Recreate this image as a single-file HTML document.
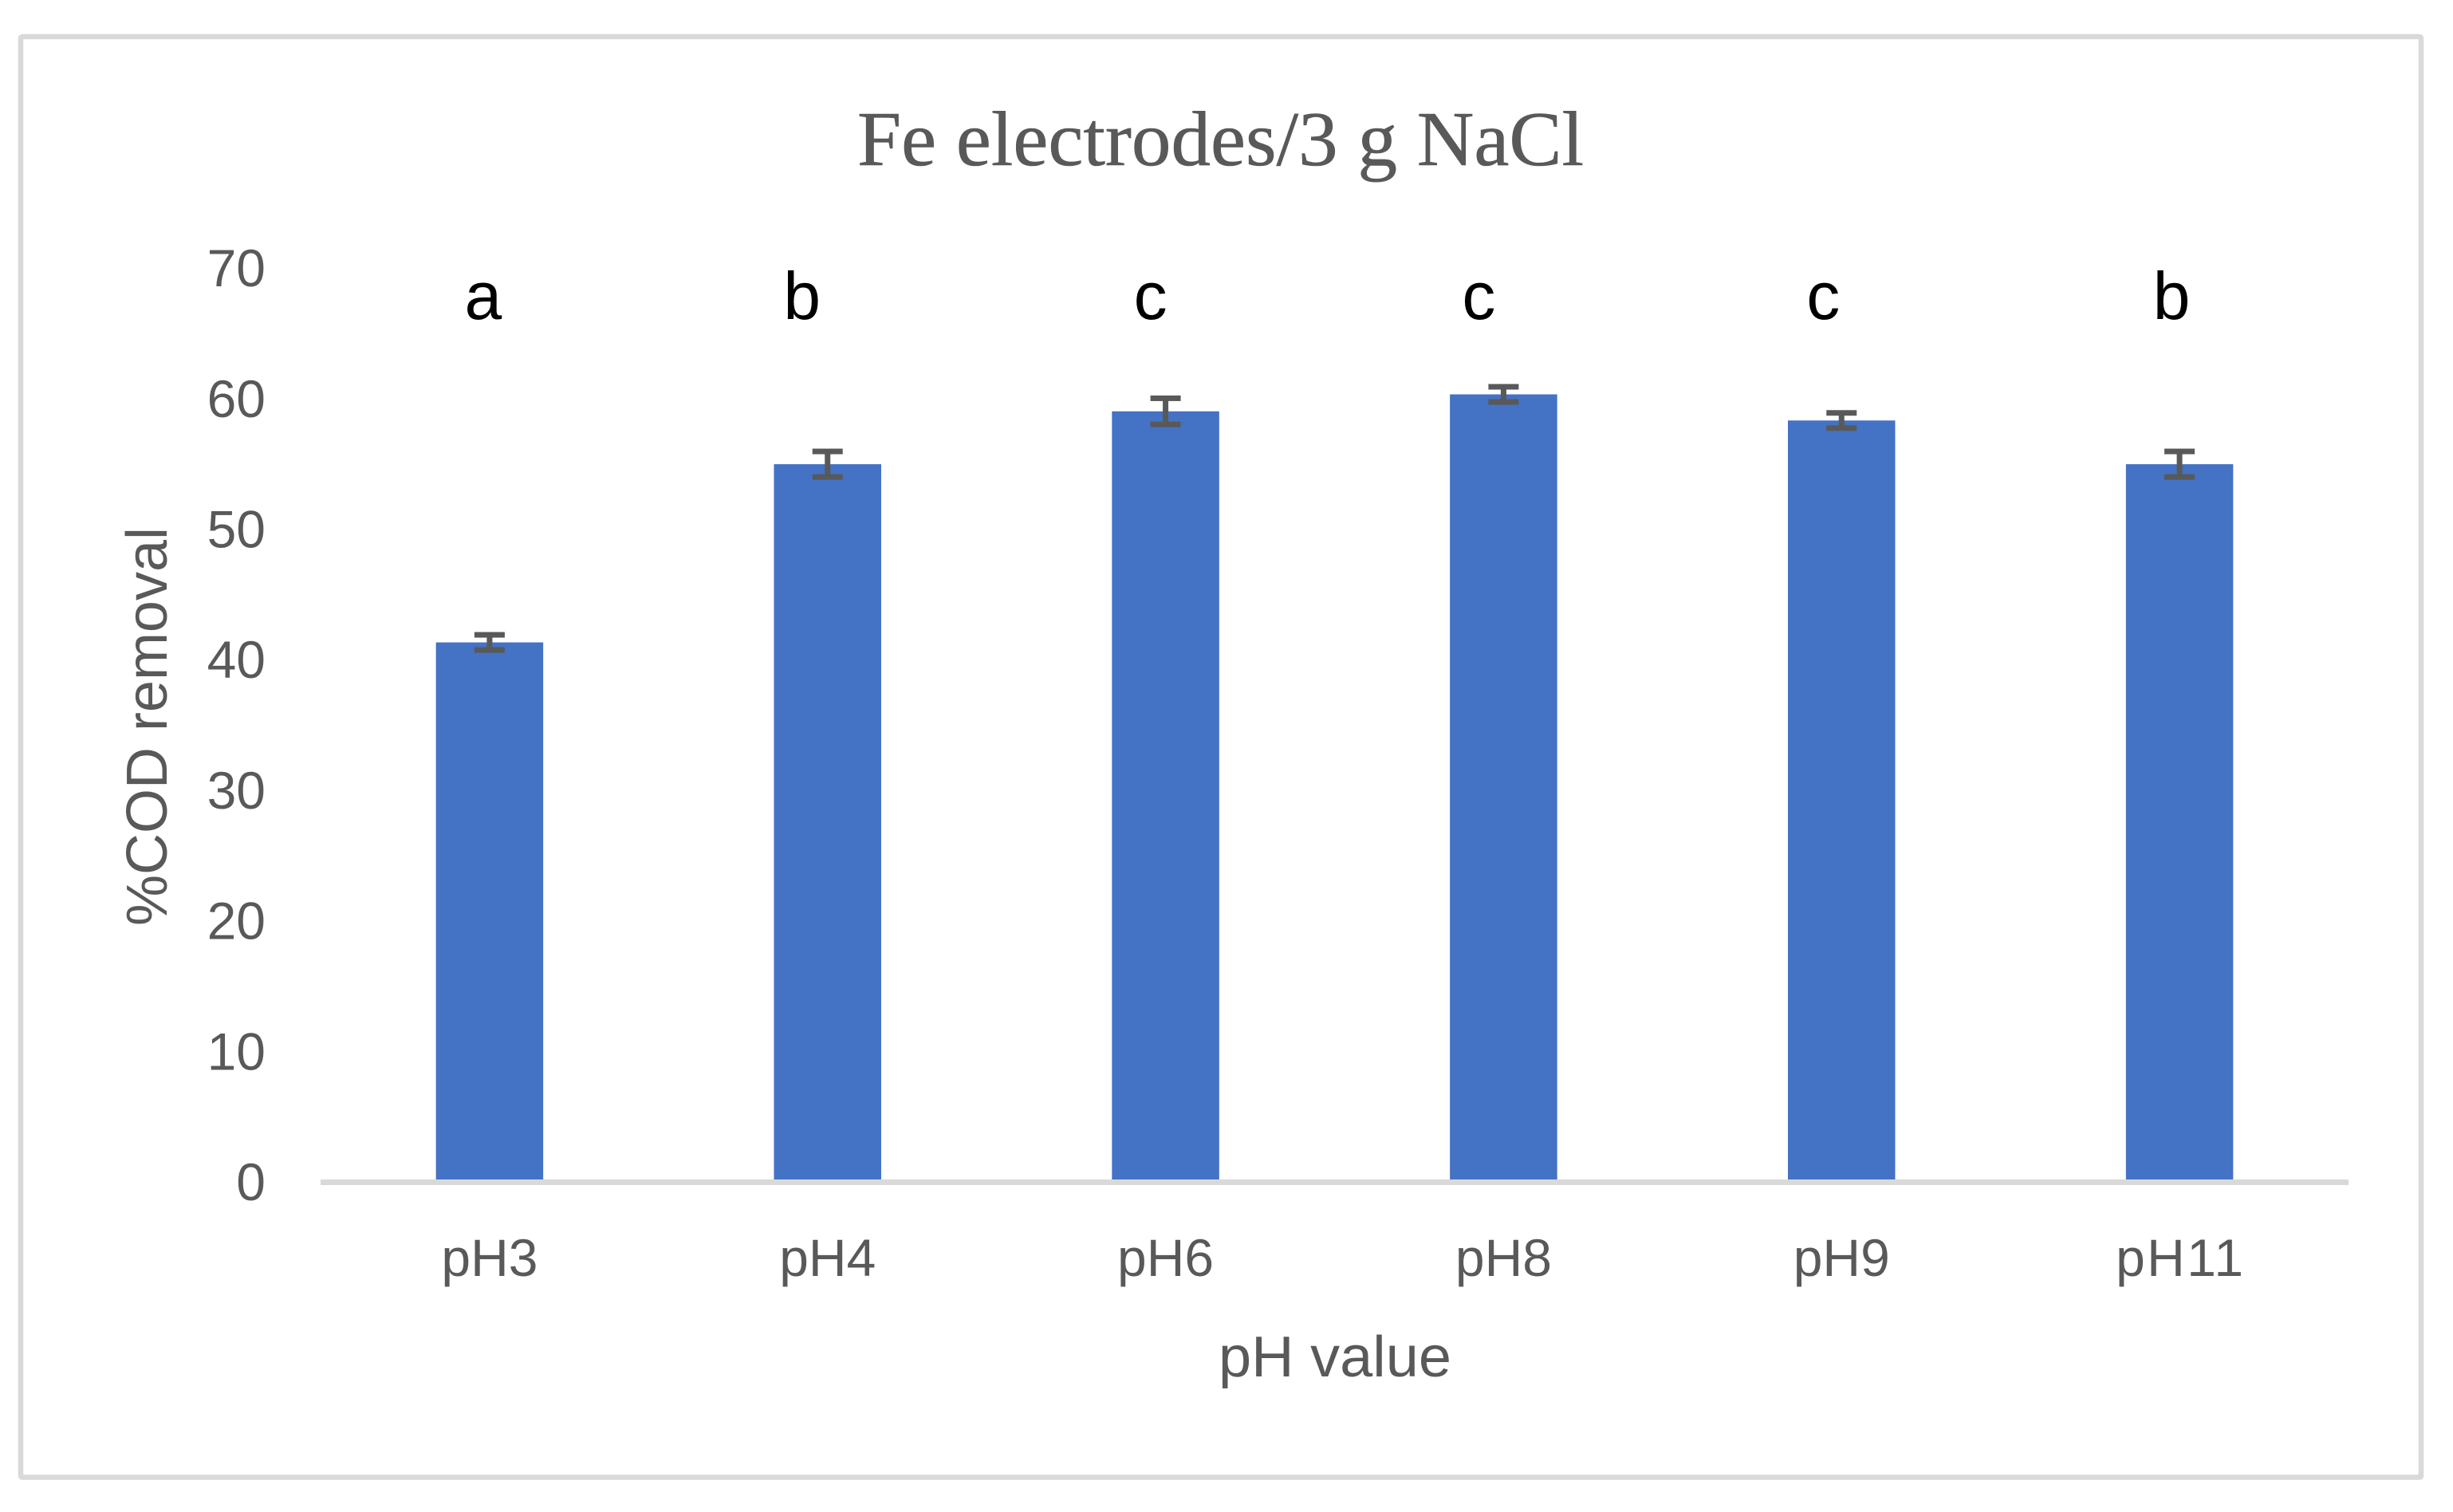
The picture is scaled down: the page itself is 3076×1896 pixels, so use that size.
<!DOCTYPE html>
<html lang="en">
<head>
<meta charset="utf-8">
<title>Fe electrodes/3 g NaCl</title>
<style>
  html, body { margin: 0; padding: 0; background: #fff; }
  body { width: 3076px; height: 1896px; overflow: hidden; }
  svg { display: block; }
  .sans { font-family: "Liberation Sans", sans-serif; fill: #595959; }
  .serif { font-family: "Liberation Serif", serif; fill: #595959; }
</style>
</head>
<body>
<svg id="chart" xmlns="http://www.w3.org/2000/svg" width="3076" height="1896" viewBox="0 0 3076 1896">
  <rect x="0" y="0" width="3076" height="1896" fill="#ffffff"/>
  <rect x="26" y="46" width="3010" height="1806.5" rx="2" fill="#ffffff" stroke="#d9d9d9" stroke-width="6.5"/>
  <text class="serif" x="1075" y="207" font-size="97" stroke="#595959" stroke-width="0.6" textLength="911" lengthAdjust="spacingAndGlyphs">Fe electrodes/3 g NaCl</text>
  <text class="sans" transform="translate(209 1161) rotate(-90)" x="0" y="0" font-size="72" textLength="500" lengthAdjust="spacingAndGlyphs">%COD removal</text>
  <text class="sans" x="1674" y="1726" font-size="72" text-anchor="middle" textLength="292" lengthAdjust="spacingAndGlyphs">pH value</text>
  <g id="y-ticks"></g>
  <g id="bars"></g>
  <g id="errors"></g>
  <g id="letters"></g>
  <g id="x-ticks"></g>
  <rect x="402" y="1479" width="2543" height="7" fill="#d9d9d9"/>
</svg>
<script>
const categories = ["pH3", "pH4", "pH6", "pH8", "pH9", "pH11"];
const removalValues = [41.2, 54.85, 58.9, 60.2, 58.2, 54.85];
const errorValues = [0.58, 0.98, 1.0, 0.58, 0.58, 0.98];
const significanceLetters = ["a", "b", "c", "c", "c", "b"];
const yTickValues = [0, 10, 20, 30, 40, 50, 60, 70];

const SVG_NS = "http://www.w3.org/2000/svg";

function xBand(i) {
  const left = 402, right = 2945;
  return left + (right - left) * (i + 0.5) / categories.length;
}
function yScale(v) {
  return 1480 - v * 16.37;
}
function make(tag, parent, attrs, text) {
  const el = document.createElementNS(SVG_NS, tag);
  for (const k in attrs) el.setAttribute(k, attrs[k]);
  if (text !== undefined) el.textContent = text;
  parent.appendChild(el);
  return el;
}

function drawYTicks() {
  const g = document.getElementById("y-ticks");
  yTickValues.forEach(function (v) {
    const el = make("text", g, {
      "class": "sans", x: 333, y: yScale(v) + 25, "font-size": 66, "text-anchor": "end"
    }, String(v));
    
    
  });
}

function drawBars() {
  const g = document.getElementById("bars");
  const barWidth = 134.5;
  removalValues.forEach(function (v, i) {
    const top = yScale(v);
    const el = make("rect", g, {
      x: xBand(i) - barWidth / 2, y: top, width: barWidth, height: yScale(0) - top, fill: "#4472c4"
    });
    
    
  });
}

function drawErrors() {
  const g = document.getElementById("errors");
  const capWidth = 38, capHeight = 7, stem = 7;
  removalValues.forEach(function (v, i) {
    const cx = xBand(i);
    const hi = yScale(v + errorValues[i]);
    const lo = yScale(v - errorValues[i]);
    const group = make("g", g, { fill: "#595959" });
    
    
    make("rect", group, { x: cx - stem / 2, y: hi, width: stem, height: lo - hi });
    make("rect", group, { x: cx - capWidth / 2, y: hi - capHeight / 2, width: capWidth, height: capHeight });
    make("rect", group, { x: cx - capWidth / 2, y: lo - capHeight / 2, width: capWidth, height: capHeight });
  });
}

function drawLetters() {
  const g = document.getElementById("letters");
  /* hand-placed annotation text boxes sit slightly left of their bars */
  const nudge = [-8, -32, -19, -31, -23, -10];
  significanceLetters.forEach(function (s, i) {
    const el = make("text", g, {
      x: xBand(i) + nudge[i], y: 400, "font-size": 84, "text-anchor": "middle",
      "font-family": '"Liberation Sans", sans-serif', fill: "#000000"
    }, s);
    
    
  });
}

function drawXTicks() {
  const g = document.getElementById("x-ticks");
  categories.forEach(function (c, i) {
    const attrs = {
      "class": "sans", x: xBand(i), y: 1600, "font-size": 66, "text-anchor": "middle"
    };
    if (c.length > 3) {
      attrs.textLength = 160;
      attrs.lengthAdjust = "spacing";
    }
    const el = make("text", g, attrs, c);
    
    
  });
}

drawYTicks();
drawBars();
drawErrors();
drawLetters();
drawXTicks();
</script>
</body>
</html>
